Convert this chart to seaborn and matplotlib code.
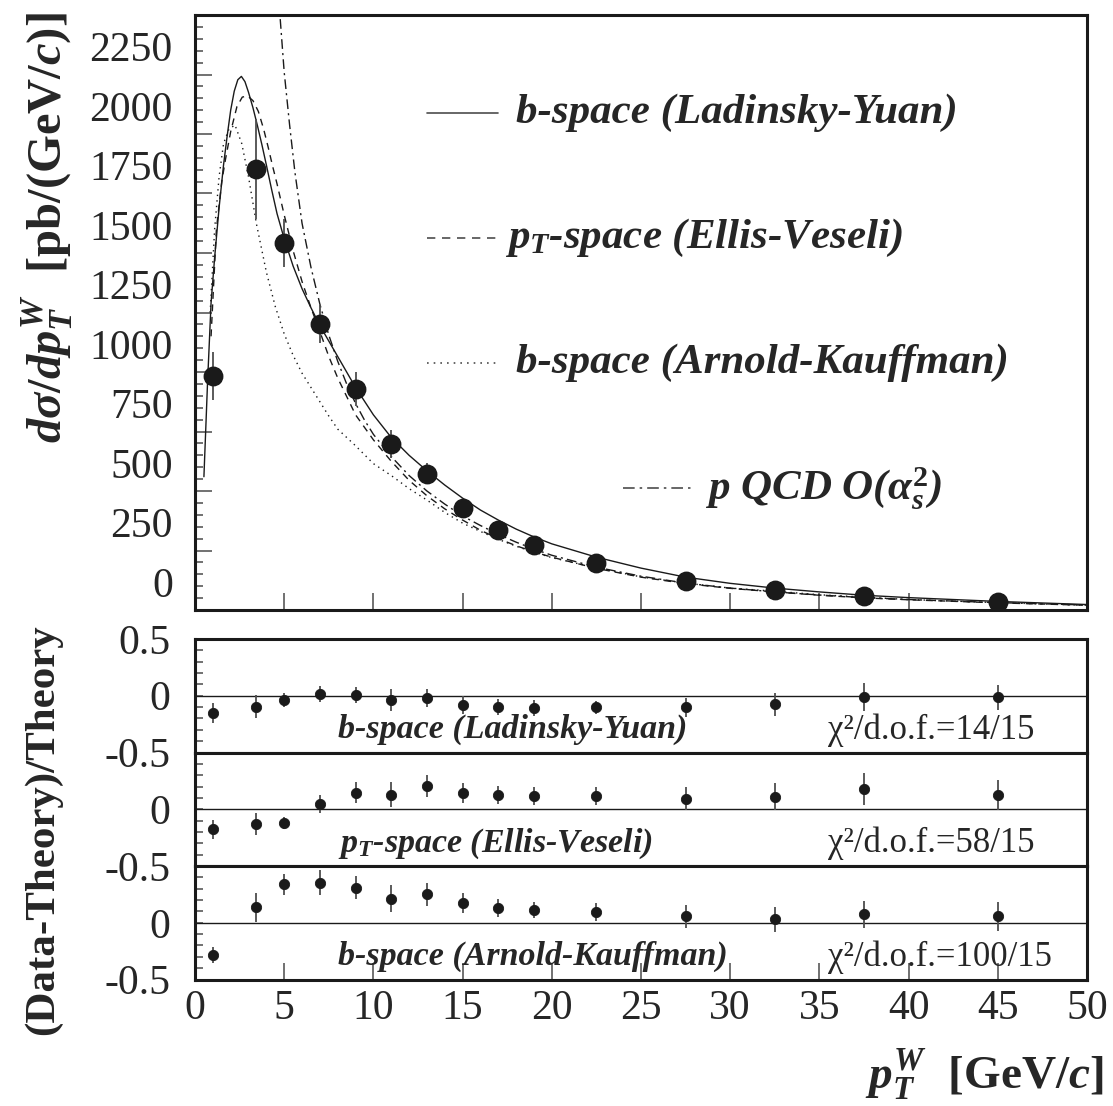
import matplotlib
matplotlib.use("Agg")
import numpy as np
import pandas as pd
import matplotlib.pyplot as plt
import matplotlib.transforms as mtransforms
from matplotlib.ticker import MultipleLocator, FixedLocator
import seaborn as sns

# measured points (pT bin centres)
pt = [1, 3.4, 5, 7, 9, 11, 13, 15, 17, 19, 22.5, 27.5, 32.5, 37.5, 45]
xsec = [983, 1852, 1543, 1203, 928, 697, 573, 428, 336, 273, 196, 122, 84, 59, 34]
xsec_err = [100, 210, 100, 80, 72, 60, 45, 35, 30, 25, 18, 12, 9, 7, 5]

# (Data-Theory)/Theory for each prediction
r_ly = [-0.152, -0.097, -0.038, 0.015, 0.01, -0.038, -0.02, -0.082, -0.10, -0.11, -0.103, -0.103, -0.076, -0.01, -0.015]
r_ly_err = [0.09, 0.1, 0.06, 0.07, 0.07, 0.1, 0.08, 0.08, 0.07, 0.07, 0.06, 0.08, 0.1, 0.12, 0.11]
r_ev = [-0.176, -0.13, -0.12, 0.044, 0.147, 0.126, 0.206, 0.141, 0.124, 0.12, 0.118, 0.094, 0.109, 0.18, 0.124]
r_ev_err = [0.085, 0.1, 0.05, 0.08, 0.09, 0.11, 0.1, 0.09, 0.08, 0.08, 0.08, 0.1, 0.12, 0.14, 0.13]
r_ak = [-0.285, 0.135, 0.338, 0.353, 0.309, 0.212, 0.25, 0.174, 0.129, 0.115, 0.094, 0.056, 0.03, 0.074, 0.056]
r_ak_err = [0.07, 0.13, 0.09, 0.11, 0.1, 0.12, 0.1, 0.09, 0.08, 0.07, 0.08, 0.1, 0.11, 0.12, 0.13]

# theory curves
ly_pt = [0.5, 0.7, 0.9, 1.1, 1.35, 1.6, 1.8, 2.0, 2.2, 2.4, 2.6, 2.8, 3.0, 3.25, 3.5, 3.75, 4.0, 4.3, 4.6,
         5.0, 5.5, 6.0, 6.5, 7.0, 7.5, 8.0, 9.0, 10.0, 11.0, 12.0, 13.0, 14.0, 15.0, 16.0, 17.0, 18.0, 19.0,
         20.0, 22.5, 25.0, 27.5, 30.0, 32.5, 35.0, 37.5, 40.0, 45.0, 50.0]
ly_val = [560, 950, 1290, 1480, 1690, 1870, 1990, 2100, 2180, 2228, 2242, 2220, 2175, 2110, 2035, 1955, 1870,
          1765, 1665, 1560, 1445, 1350, 1270, 1195, 1130, 1065, 935, 820, 725, 650, 585, 525, 470, 420, 378,
          340, 307, 278, 222, 176, 138, 112, 92, 76, 62, 52, 36, 23]

ev_pt = [0.9, 1.2, 1.5, 1.7, 2.0, 2.35, 2.65, 2.95, 3.25, 3.55, 3.85, 4.1, 4.35, 4.6, 5.0, 5.5, 6.0, 6.5,
         7.0, 7.5, 8.0, 9.0, 10.0, 11.0, 12.0, 13.0, 14.0, 15.0, 16.0, 17.0, 18.0, 19.0, 20.0, 22.5, 25.0,
         27.5, 30.0, 32.5, 35.0, 37.5, 40.0, 45.0, 50.0]
ev_val = [1150, 1600, 1800, 1890, 2010, 2115, 2155, 2160, 2140, 2095, 2020, 1945, 1865, 1790, 1660, 1510,
          1380, 1270, 1170, 1065, 975, 820, 715, 625, 545, 480, 425, 378, 335, 300, 270, 244, 222, 175, 138,
          111, 91, 76, 62, 51, 43, 30, 20]

ak_pt = [0.85, 1.1, 1.35, 1.6, 1.9, 2.24, 2.62, 3.0, 3.45, 4.0, 4.5, 5.0, 5.5, 6.0, 6.5, 7.0, 7.5, 8.0,
         9.0, 10.0, 11.0, 12.0, 13.0, 14.0, 15.0, 16.0, 17.0, 18.0, 19.0, 20.0, 22.5, 25.0, 27.5, 30.0,
         32.5, 35.0, 37.5, 40.0, 45.0, 50.0]
ak_val = [1250, 1600, 1820, 1960, 2020, 2038, 1960, 1820, 1620, 1420, 1275, 1160, 1070, 995, 935, 875,
          815, 760, 690, 615, 565, 510, 462, 410, 365, 330, 297, 268, 243, 220, 177, 139, 113, 92, 79, 64,
          54, 44, 31, 20]

qcd_pt = [4.5, 4.76, 5.0, 5.3, 5.6, 6.0, 6.5, 7.0, 7.5, 8.0, 8.5, 9.0, 9.5, 10.0, 11.0, 12.0, 13.0, 14.0,
          15.0, 16.0, 17.0, 18.0, 19.0, 20.0, 22.5, 25.0, 27.5, 30.0, 32.5, 35.0, 37.5, 40.0, 45.0, 50.0]
qcd_val = [2900, 2500, 2260, 2040, 1840, 1625, 1440, 1285, 1155, 1045, 950, 868, 798, 738, 645, 565, 500,
           445, 395, 355, 318, 285, 256, 230, 180, 142, 113, 92, 76, 63, 52, 44, 31, 21]

labels_top = ["b-space (Ladinsky-Yuan)", r"$p_T$-space (Ellis-Veseli)",
              "b-space (Arnold-Kauffman)", r"p QCD O($\alpha_s^2$)"]
labels_ratio = ["b-space (Ladinsky-Yuan)", r"$p_T$-space (Ellis-Veseli)", "b-space (Arnold-Kauffman)"]
chi2_text = ["χ²/d.o.f.=14/15", "χ²/d.o.f.=58/15", "χ²/d.o.f.=100/15"]

sns.set_theme(style="white")
plt.rcParams["font.family"] = ["Liberation Serif", "DejaVu Serif"]
plt.rcParams["mathtext.fontset"] = "custom"
plt.rcParams["mathtext.it"] = "Liberation Serif:italic:bold"
plt.rcParams["mathtext.rm"] = "Liberation Serif:bold"
plt.rcParams["mathtext.bf"] = "Liberation Serif:bold"

W, H = 1113, 1106
fig = plt.figure(figsize=(W / 100, H / 100), dpi=100)


def px_axes(left, top, right, bottom):
    return fig.add_axes([left / W, 1 - bottom / H, (right - left) / W, (bottom - top) / H])


tick_col = "0.35"
styles = ["-", (0, (5, 4)), (0, (1, 3)), (0, (7, 3, 1.5, 3))]

# ---------------- top panel
ax = px_axes(195, 15, 1087, 610)
curves = [(ly_pt, ly_val), (ev_pt, ev_val), (ak_pt, ak_val), (qcd_pt, qcd_val)]
for (cx, cy), ls in zip(curves, styles):
    sns.lineplot(x=cx, y=cy, ax=ax, color="k", linewidth=1.0, linestyle=ls, sort=False, estimator=None)

ax.errorbar(pt, xsec, yerr=xsec_err, fmt="none", ecolor="0.3", elinewidth=1.3, capsize=0)
sns.scatterplot(x=pt, y=xsec, ax=ax, color="k", s=175, edgecolor="k", zorder=3)

ax.set_xlim(0, 50)
ax.set_ylim(0, 2500)
ax.xaxis.set_major_locator(MultipleLocator(5))
ax.yaxis.set_major_locator(FixedLocator(np.arange(0, 2251, 250)))
ax.yaxis.set_minor_locator(MultipleLocator(50))
ax.tick_params(which="both", direction="in", left=True, bottom=True, top=False, right=False,
               color=tick_col, width=1.2)
ax.tick_params(which="major", length=12)
ax.tick_params(which="minor", length=6)
ax.tick_params(axis="x", labelbottom=False)
ax.tick_params(axis="y", labelsize=30, pad=16)
ax.set_yticklabels([str(v) for v in np.arange(0, 2251, 250)])
shift = mtransforms.ScaledTranslation(0, 0.28, fig.dpi_scale_trans)
for t in ax.yaxis.get_major_ticks():
    t.label1.set_transform(t.label1.get_transform() + shift)

# legend drawn as in the original (widely spaced entries)
leg_pos = [(0.26, 0.34, 0.835, 0.36), (0.26, 0.34, 0.625, 0.348),
           (0.26, 0.34, 0.415, 0.36), (0.48, 0.56, 0.205, 0.572)]
for (x0, x1, yy, xt), ls, lab in zip(leg_pos, styles, labels_top):
    ax.plot([x0, x1], [yy, yy], transform=ax.transAxes, color="0.3", lw=1.2, linestyle=ls)
    ax.text(xt, yy, lab, transform=ax.transAxes, ha="left", va="center", fontsize=31,
            fontweight="bold", fontstyle="italic")

for s in ax.spines.values():
    s.set_linewidth(2.2)
    s.set_color("k")
ax.set_xlabel("")
ax.set_ylabel("")

# ---------------- ratio panels
tops = [639, 752.5, 866]
ratios = [(r_ly, r_ly_err), (r_ev, r_ev_err), (r_ak, r_ak_err)]
for i, (rv, re) in enumerate(ratios):
    rax = px_axes(195, tops[i], 1087, tops[i] + 113.5)
    rax.axhline(0, color="k", lw=1.0, zorder=1)
    rax.errorbar(pt, rv, yerr=re, fmt="none", ecolor="0.3", elinewidth=1.3, capsize=0)
    sns.scatterplot(x=pt, y=rv, ax=rax, color="k", s=55, edgecolor="k", zorder=3)
    rax.set_xlim(0, 50)
    rax.set_ylim(-0.5, 0.5)
    yt = [-0.5, 0, 0.5] if i == 0 else [-0.5, 0]
    rax.yaxis.set_major_locator(FixedLocator(yt))
    rax.yaxis.set_minor_locator(MultipleLocator(0.1))
    rax.set_yticklabels(["-0.5", "0", "0.5"][:len(yt)])
    rax.xaxis.set_major_locator(MultipleLocator(5))
    rax.tick_params(which="both", direction="in", left=True, right=False, top=False,
                    color=tick_col, width=1.2, length=6)
    rax.tick_params(axis="y", labelsize=30, pad=18)
    if i == 2:
        rax.tick_params(axis="x", which="major", bottom=True, length=12, labelsize=30, pad=7)
    else:
        rax.tick_params(axis="x", which="both", bottom=False, labelbottom=False)
    rax.tick_params(axis="x", which="minor", bottom=False)
    for s in rax.spines.values():
        s.set_linewidth(2.2)
        s.set_color("k")
    rax.text(0.16, 0.2, labels_ratio[i], transform=rax.transAxes, ha="left", va="center",
             fontsize=24.5, fontweight="bold", fontstyle="italic")
    rax.text(0.71, 0.2, chi2_text[i], transform=rax.transAxes, ha="left", va="center", fontsize=25)
    rax.set_xlabel("")
    rax.set_ylabel("")

# ---------------- axis titles
fig.text(47 / W, 1 - 228 / H, r"$d\sigma/dp_T^W$  [pb/(GeV/$c$)]", rotation=90, ha="center",
         va="center", fontsize=35, fontweight="bold")
fig.text(43 / W, 1 - 830 / H, "(Data-Theory)/Theory", rotation=90, ha="center", va="center",
         fontsize=31, fontweight="bold")
fig.text(1104 / W, 1 - 1075 / H, r"$p_T^W$  [GeV/$c$]", ha="right", va="center",
         fontsize=34, fontweight="bold")

fig.savefig("out.png", dpi=100)
